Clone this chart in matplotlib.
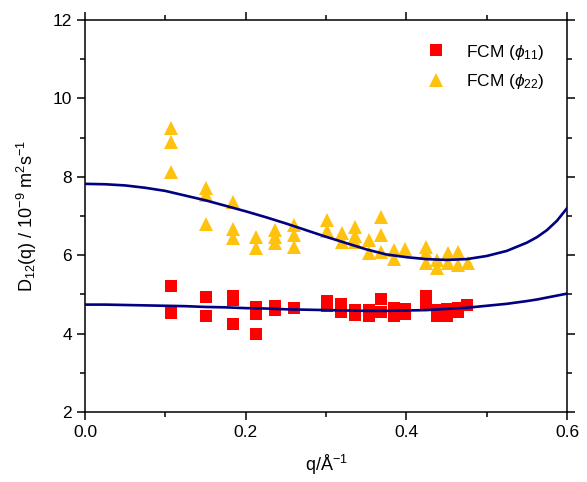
import numpy as np
import matplotlib
matplotlib.use("Agg")
from matplotlib import pyplot as plt

plt.rcParams['font.family'] = ['Liberation Sans', 'DejaVu Sans']
plt.rcParams['mathtext.fontset'] = 'custom'
plt.rcParams['mathtext.rm'] = 'Liberation Sans'
plt.rcParams['mathtext.it'] = 'Liberation Sans:italic'

# FCM data, phi_11 (squares)
q11 = [0.107, 0.107, 0.151, 0.151, 0.184, 0.184, 0.184, 0.213, 0.213, 0.213,
       0.237, 0.237, 0.260, 0.301, 0.301, 0.319, 0.319, 0.336, 0.336,
       0.353, 0.353, 0.369, 0.369, 0.384, 0.384, 0.398, 0.398,
       0.425, 0.425, 0.438, 0.438, 0.451, 0.451, 0.464, 0.464, 0.476]
d11 = [5.21, 4.52, 4.94, 4.45, 4.95, 4.85, 4.24, 4.67, 4.50, 3.99,
       4.70, 4.60, 4.65, 4.82, 4.70, 4.75, 4.55, 4.60, 4.47,
       4.60, 4.45, 4.88, 4.55, 4.65, 4.45, 4.62, 4.50,
       4.97, 4.72, 4.60, 4.45, 4.62, 4.45, 4.65, 4.55, 4.72]

# FCM data, phi_22 (triangles)
q22 = [0.107, 0.107, 0.107, 0.151, 0.151, 0.151, 0.184, 0.184, 0.184,
       0.213, 0.213, 0.237, 0.237, 0.237, 0.260, 0.260, 0.260,
       0.301, 0.301, 0.320, 0.320, 0.336, 0.336, 0.336, 0.353, 0.353,
       0.369, 0.369, 0.369, 0.384, 0.384, 0.398,
       0.425, 0.425, 0.425, 0.438, 0.438, 0.452, 0.452, 0.464, 0.464, 0.477]
d22 = [9.24, 8.90, 8.11, 7.71, 7.54, 6.79, 7.37, 6.66, 6.43,
       6.47, 6.18, 6.64, 6.47, 6.32, 6.77, 6.52, 6.22,
       6.90, 6.62, 6.56, 6.34, 6.73, 6.49, 6.34, 6.39, 6.05,
       6.98, 6.52, 6.09, 6.13, 5.90, 6.15,
       6.22, 6.05, 5.79, 5.88, 5.67, 6.05, 5.79, 6.09, 5.75, 5.79]

# model curves
q_fit = [0.0, 0.025, 0.05, 0.075, 0.1, 0.125, 0.15, 0.175, 0.2, 0.225,
         0.25, 0.275, 0.3, 0.325, 0.35, 0.375, 0.4, 0.425, 0.45, 0.475,
         0.5, 0.525, 0.55, 0.5625, 0.575, 0.5875, 0.6]
fit22 = [7.82, 7.81, 7.78, 7.72, 7.64, 7.52, 7.40, 7.26, 7.12, 6.97,
         6.81, 6.64, 6.47, 6.31, 6.15, 6.02, 5.95, 5.90, 5.88, 5.90,
         5.98, 6.11, 6.32, 6.46, 6.64, 6.88, 7.20]
fit11 = [4.74, 4.74, 4.73, 4.72, 4.71, 4.70, 4.68, 4.67, 4.65, 4.64,
         4.62, 4.61, 4.60, 4.59, 4.58, 4.58, 4.59, 4.60, 4.63, 4.66,
         4.71, 4.76, 4.83, 4.87, 4.92, 4.97, 5.02]

fig = plt.figure(figsize=(5.87, 4.82), dpi=100)
ax = fig.add_axes([0.1448, 0.1452, 0.8212, 0.8133])

ax.plot(q11, d11, linestyle='None', marker='s', markersize=8.6,
        color='#FF0000', markeredgewidth=0, label=r'FCM ($\phi_{11}$)', zorder=2)
ax.plot(q22, d22, linestyle='None', marker='^', markersize=10,
        color='#FFC20E', markeredgewidth=0, label=r'FCM ($\phi_{22}$)', zorder=2)

ax.plot(q_fit, fit22, color='#000080', linewidth=1.9, zorder=3)
ax.plot(q_fit, fit11, color='#000080', linewidth=1.9, zorder=3)

ax.set_xlim(0, 0.6)
ax.set_ylim(2, 12)
ax.set_xticks([0.0, 0.2, 0.4, 0.6])
ax.set_xticks([0.1, 0.3, 0.5], minor=True)
ax.set_yticks([2, 4, 6, 8, 10, 12])
ax.set_yticks([3, 5, 7, 9, 11], minor=True)
ax.xaxis.set_major_formatter(matplotlib.ticker.FormatStrFormatter('%.1f'))

for s in ax.spines.values():
    s.set_linewidth(1.1)
ax.tick_params(which='both', direction='out', top=True, right=True,
               labeltop=False, labelright=False, width=1.1, labelsize=12.5)
ax.tick_params(which='major', length=6)
ax.tick_params(which='minor', length=3.5)

ax.set_xlabel(r'q/Å$^{-1}$', fontsize=13, labelpad=9)
ax.set_ylabel(r'D$_{12}$(q) / 10$^{-9}$ m$^{2}$s$^{-1}$', fontsize=13, labelpad=10)

ax.legend(loc='upper right', frameon=False, fontsize=12.5, handletextpad=0.9,
          borderaxespad=0.9, labelspacing=0.6, handlelength=1.6)

plt.savefig('out.png', dpi=100)
